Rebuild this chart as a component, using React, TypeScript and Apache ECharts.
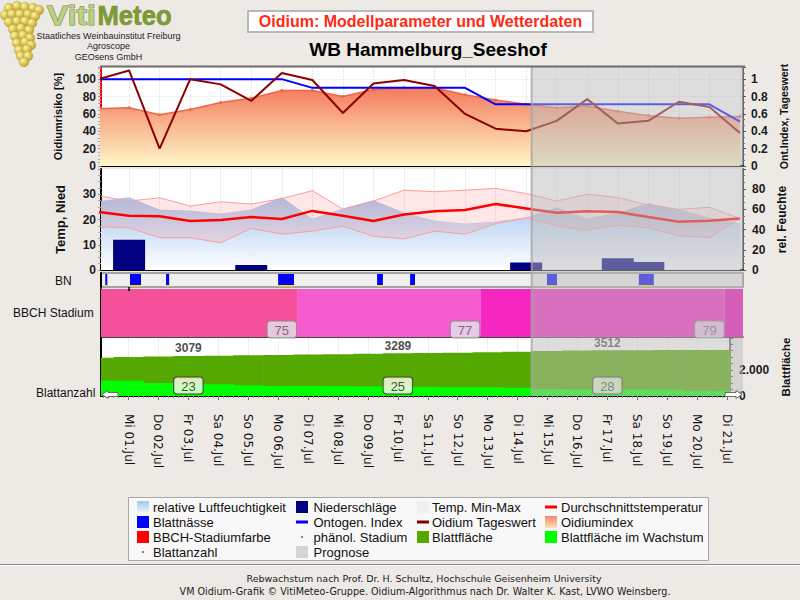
import React, { useEffect, useRef } from 'react';
import * as echarts from 'echarts';

// ---------------- data ----------------
const days = [0, 1, 2, 3, 4, 5, 6, 7, 8, 9, 10, 11, 12, 13, 14, 15, 16, 17, 18, 19, 20, 21];
const labelDays = [1, 2, 3, 4, 5, 6, 7, 8, 9, 10, 11, 12, 13, 14, 15, 16, 17, 18, 19, 20, 21];
const dayLabels = [
  'Mi 01.Jul', 'Do 02.Jul', 'Fr 03.Jul', 'Sa 04.Jul', 'So 05.Jul', 'Mo 06.Jul', 'Di 07.Jul',
  'Mi 08.Jul', 'Do 09.Jul', 'Fr 10.Jul', 'Sa 11.Jul', 'So 12.Jul', 'Mo 13.Jul', 'Di 14.Jul',
  'Mi 15.Jul', 'Do 16.Jul', 'Fr 17.Jul', 'Sa 18.Jul', 'So 19.Jul', 'Mo 20.Jul', 'Di 21.Jul',
];

const oidiumTageswert = [100, 110, 20, 100, 94, 75, 107, 99, 61, 95, 99, 92, 60, 43, 40, 52, 77, 49, 52, 74, 68, 38];
const oidiumIndex = [66, 67, 59, 65, 73, 78, 87, 87, 80, 88, 90, 90, 82, 76, 71, 67, 69, 63, 58, 55, 56, 57];
const ontogenIndex = [1, 1, 1, 1, 1, 1, 1, 0.9, 0.9, 0.9, 0.9, 0.9, 0.9, 0.71, 0.71, 0.71, 0.71, 0.71, 0.71, 0.71, 0.71, 0.51];

const relFeuchte = [68, 72, 60, 59, 56, 60, 72, 51, 61, 69, 57, 49, 46, 48, 52, 62, 51, 57, 66, 60, 52, 46];
const tempAvg = [23, 21.5, 21.3, 19.4, 19.8, 21, 20.2, 23.4, 21.5, 19.4, 22, 23.3, 23.8, 26.1, 24.4, 22.7, 23.3, 23, 21, 19.1, 19.5, 20.4];
const tempMax = [29.4, 27.3, 28.6, 25.3, 27, 26.1, 28.3, 31.4, 24.1, 27.3, 31.6, 31, 31.6, 32.3, 30.3, 27.3, 30, 28.7, 25.7, 24, 24.8, 20.4];
const tempMin = [17.1, 16.7, 12.8, 12.8, 10.8, 16.5, 14.2, 15.4, 17.4, 13.4, 12.3, 15.4, 14.2, 18.4, 20.7, 17.5, 15.8, 17.8, 16.7, 13.6, 12.8, 20.4];

const niederDays = [1, 5, 14, 17, 18];
const niederValues = [12, 2, 3, 4.7, 3.2];

const bnStart = [0.22, 1.03, 2.21, 5.88, 9.12, 10.2, 14.68, 17.69];
const bnEnd = [0.28, 1.39, 2.31, 6.4, 9.31, 10.36, 15.01, 18.18];

const bbchStart = [0, 6.5, 12.5, 20.5];
const bbchEnd = [6.5, 12.5, 20.5, 21.2];
const bbchColors = ['#f5509a', '#f45ccf', '#f527c0', '#f000b4'];
const bbchLabelDays = [6, 12, 20];
const bbchLabels = ['75', '77', '79'];
const phenoDays = [1];

const blattflaeche = [2950, 3000, 3040, 3079, 3100, 3130, 3160, 3190, 3220, 3255, 3289, 3310, 3330, 3360, 3410, 3460, 3490, 3512, 3525, 3535, 3540, 3545];
const blattWachstum = [1180, 1170, 1000, 930, 900, 820, 780, 770, 760, 740, 720, 700, 680, 670, 640, 520, 510, 500, 500, 490, 390, 380];
const blattLabelDays = [3, 10, 17];
const blattanzahlDays = [3, 10, 17];
const blattanzahl = [23, 25, 28];

const prognoseStart = 14.18;

// ---------------- layout ----------------
const FONT = 'Liberation Sans, Arial, sans-serif';
const VFONT = 'DejaVu Sans, Verdana, sans-serif';
const XMIN = 0.08;
const XMAX = 21.1;
const L = 101;
const R = 743;
const PANELS = [
  { top: 67, height: 99 },
  { top: 169, height: 101 },
  { top: 273, height: 14 },
  { top: 289, height: 48 },
  { top: 338, height: 58 },
];
const OVERLAY_BOTTOM = 396;
const HOUR_STEPS = [0, 1, 2, 3, 4, 5];
const minorDayTicks = days
  .flatMap((d) => HOUR_STEPS.map((k) => d + k / 6))
  .filter((v) => v > XMIN && v < XMAX);

const xy = (vals: number[]) => days.map((d, i) => [d, vals[i]]);

const boldLabel = { fontWeight: 'bold', fontSize: 12, color: '#1a1a1a', fontFamily: FONT };

const dayBlock = (fill: string) => (params: any, api: any) => {
  const d = api.value(0);
  const v = api.value(1);
  const p0 = api.coord([d - 0.5, v]);
  const p1 = api.coord([d + 0.5, 0]);
  return {
    type: 'rect',
    shape: { x: p0[0], y: p0[1], width: p1[0] - p0[0] + 0.6, height: p1[1] - p0[1] },
    style: { fill },
  };
};

function buildOption() {
  const grid = PANELS.map((p, i) => ({
    left: L,
    width: R - L,
    top: p.top,
    height: p.height,
    show: true,
    backgroundColor: i === 2 ? '#efefef' : '#ffffff',
    borderColor: '#8c8c8c',
    borderWidth: i === 2 ? 1.5 : 0,
  }));

  const xAxis: any[] = PANELS.map((_, i) => ({
    type: 'value',
    gridIndex: i,
    min: XMIN,
    max: XMAX,
    axisLine: {
      show: i !== 2,
      onZero: false,
      lineStyle: { color: i === 3 ? '#111' : '#000', width: i === 3 ? 1.5 : 2 },
    },
    axisTick: {
      show: i === 4,
      customValues: labelDays,
      length: 4,
      lineStyle: { color: '#666' },
    },
    axisLabel: {
      show: i === 4,
      customValues: labelDays,
      formatter: (v: number) => dayLabels[Math.round(v) - 1] || '',
      rotate: -90,
      margin: 18,
      fontSize: 12,
      fontFamily: VFONT,
      color: '#111',
    },
    splitLine: {
      show: i === 0 || i === 1 || i === 4,
      lineStyle: { color: '#dedede', type: 'dotted', width: 1 },
    },
  }));
  // small 4-hour ticks below the time axis
  xAxis.push({
    type: 'value', gridIndex: 4, position: 'bottom', min: XMIN, max: XMAX,
    axisLine: { show: false },
    axisTick: { show: true, customValues: minorDayTicks, length: 2, lineStyle: { color: '#888' } },
    axisLabel: { show: false },
    splitLine: { show: false },
  });

  const yAxis: any[] = [
    {
      type: 'value', gridIndex: 0, position: 'left', min: 0, max: 114, interval: 20,
      name: 'Oidiumrisiko [%]', nameLocation: 'middle', nameGap: 38, nameRotate: 90,
      nameTextStyle: { fontWeight: 'bold', fontSize: 11, color: '#111', fontFamily: FONT },
      axisLine: { show: true, lineStyle: { color: '#ff0000', width: 2 } },
      axisTick: { show: true, length: 3, lineStyle: { color: '#999' } },
      minorTick: { show: true, splitNumber: 5, length: 3, lineStyle: { color: '#aaa' } },
      axisLabel: { ...boldLabel, margin: 5, showMaxLabel: false },
      splitLine: { show: true, lineStyle: { color: '#e6e6e6', type: 'dotted' } },
    },
    {
      type: 'value', gridIndex: 0, position: 'right', min: 0, max: 1.14, interval: 0.2,
      name: 'Ont.Index, Tageswert', nameLocation: 'middle', nameGap: 30, nameRotate: 90,
      nameTextStyle: { fontWeight: 'bold', fontSize: 10.5, color: '#111', fontFamily: FONT },
      axisLine: { show: true, lineStyle: { color: '#666', width: 2 } },
      axisTick: { show: true, length: 3, lineStyle: { color: '#555' } },
      minorTick: { show: true, splitNumber: 3, length: 2, lineStyle: { color: '#777' } },
      axisLabel: { ...boldLabel, margin: 8, showMaxLabel: false },
      splitLine: { show: false },
    },
    {
      type: 'value', gridIndex: 1, position: 'left', min: 0, max: 40, interval: 10,
      name: 'Temp, Nied', nameLocation: 'middle', nameGap: 34, nameRotate: 90,
      nameTextStyle: { fontWeight: 'bold', fontSize: 13, color: '#111', fontFamily: FONT },
      axisLine: { show: true, lineStyle: { color: '#000', width: 2 } },
      axisTick: { show: true, length: 3, lineStyle: { color: '#888' } },
      minorTick: { show: true, splitNumber: 4, length: 3, lineStyle: { color: '#aaa' } },
      axisLabel: { ...boldLabel, margin: 5, showMaxLabel: false },
      splitLine: { show: false },
    },
    {
      type: 'value', gridIndex: 1, position: 'right', min: 0, max: 100, interval: 20,
      name: 'rel. Feuchte', nameLocation: 'middle', nameGap: 32, nameRotate: 90,
      nameTextStyle: { fontWeight: 'bold', fontSize: 12, color: '#111', fontFamily: FONT },
      axisLine: { show: true, lineStyle: { color: '#666', width: 2 } },
      axisTick: { show: true, length: 3, lineStyle: { color: '#555' } },
      minorTick: { show: true, splitNumber: 3, length: 2, lineStyle: { color: '#777' } },
      axisLabel: { ...boldLabel, margin: 9, showMaxLabel: false },
      splitLine: { show: false },
    },
    {
      type: 'value', gridIndex: 2, position: 'left', min: 0, max: 1,
      axisLine: { show: true, lineStyle: { color: '#000', width: 2 } },
      axisTick: { show: false }, axisLabel: { show: false }, splitLine: { show: false },
    },
    {
      type: 'value', gridIndex: 3, position: 'left', min: 0, max: 1,
      axisLine: { show: true, lineStyle: { color: '#000', width: 2 } },
      axisTick: { show: false }, axisLabel: { show: false }, splitLine: { show: false },
    },
    {
      type: 'value', gridIndex: 4, position: 'right', min: 0, max: 4460, interval: 500,
      name: 'Blattfläche', nameLocation: 'middle', nameGap: 42, nameRotate: 90,
      nameTextStyle: { fontWeight: 'bold', fontSize: 11.5, color: '#111', fontFamily: FONT },
      axisLine: { show: true, lineStyle: { color: '#666', width: 2 } },
      axisTick: { show: true, length: 3, lineStyle: { color: '#555' } },
      axisLabel: {
        ...boldLabel, margin: 9, customValues: [0, 2000],
        formatter: (v: number) => (v === 0 ? '0' : (v / 1000).toFixed(3)),
      },
      splitLine: { show: false },
    },
    {
      type: 'value', gridIndex: 4, position: 'left', min: 0, max: 4460,
      axisLine: { show: true, lineStyle: { color: '#000', width: 2 } },
      axisTick: { show: false }, axisLabel: { show: false }, splitLine: { show: false },
    },
  ];

  const series: any[] = [
    // ---- top panel ----
    {
      name: 'Oidiumindex', type: 'line', xAxisIndex: 0, yAxisIndex: 0, z: 2,
      data: xy(oidiumIndex), symbol: 'circle', symbolSize: 3, showSymbol: true,
      itemStyle: { color: '#f0654a' },
      lineStyle: { color: '#f0654a', width: 1.5 },
      areaStyle: {
        color: new echarts.graphic.LinearGradient(0, 0, 0, 1, [
          { offset: 0, color: '#f47a5c' },
          { offset: 1, color: '#fff8c8' },
        ]),
        opacity: 1,
      },
    },
    {
      name: 'Ontogen. Index', type: 'line', xAxisIndex: 0, yAxisIndex: 1, z: 3,
      data: xy(ontogenIndex), symbol: 'none', lineStyle: { color: '#0000ff', width: 2 },
    },
    {
      name: 'Oidium Tageswert', type: 'line', xAxisIndex: 0, yAxisIndex: 0, z: 4,
      data: xy(oidiumTageswert), symbol: 'none', lineStyle: { color: '#8b0000', width: 2 },
    },
    // ---- temperature panel ----
    {
      name: 'relative Luftfeuchtigkeit', type: 'line', xAxisIndex: 1, yAxisIndex: 3, z: 1,
      data: xy(relFeuchte), symbol: 'none', lineStyle: { width: 0 },
      areaStyle: {
        color: new echarts.graphic.LinearGradient(0, 0, 0, 1, [
          { offset: 0, color: '#a4c6ee' },
          { offset: 1, color: '#ffffff' },
        ]),
        opacity: 1,
      },
    },
    {
      name: 'Temp. Min-Max', type: 'custom', xAxisIndex: 1, yAxisIndex: 2, z: 2, clip: true,
      data: [[1, 0]],
      renderItem: (params: any, api: any) => {
        const top = days.map((d, i) => api.coord([d, tempMax[i]]));
        const bot = days.map((d, i) => api.coord([d, tempMin[i]]));
        return {
          type: 'group',
          children: [
            { type: 'polygon', shape: { points: top.concat(bot.slice().reverse()) }, style: { fill: 'rgba(255,120,120,0.18)' } },
            { type: 'polyline', shape: { points: top }, style: { stroke: '#ff9c9c', lineWidth: 1, fill: null } },
            { type: 'polyline', shape: { points: bot }, style: { stroke: '#ff9c9c', lineWidth: 1, fill: null } },
          ],
        };
      },
    },
    {
      name: 'Niederschläge', type: 'bar', xAxisIndex: 1, yAxisIndex: 2, z: 3,
      data: niederDays.map((d, i) => [d, niederValues[i]]), barWidth: 32,
      itemStyle: { color: '#000080' },
    },
    {
      name: 'Durchschnittstemperatur', type: 'line', xAxisIndex: 1, yAxisIndex: 2, z: 4,
      data: xy(tempAvg), symbol: 'none', lineStyle: { color: '#ff0000', width: 2.5 },
    },
    // ---- BN ----
    {
      name: 'Blattnässe', type: 'custom', xAxisIndex: 2, yAxisIndex: 4, z: 2, clip: true,
      data: bnStart.map((s, i) => [s, bnEnd[i]]),
      renderItem: (params: any, api: any) => {
        const cs = params.coordSys;
        const x0 = api.coord([api.value(0), 0])[0];
        const x1 = api.coord([api.value(1), 0])[0];
        const w = Math.max(x1 - x0, 2);
        return {
          type: 'group',
          children: [
            { type: 'rect', shape: { x: x0, y: cs.y + 1, width: w, height: cs.height - 2 }, style: { fill: '#0000ff' } },
            { type: 'rect', shape: { x: x0, y: cs.y + cs.height - 2, width: w, height: 1.5 }, style: { fill: '#ffe600' } },
          ],
        };
      },
    },
    // ---- BBCH ----
    {
      name: 'BBCH', type: 'custom', xAxisIndex: 3, yAxisIndex: 5, z: 1, clip: true,
      data: bbchStart.map((s, i) => [s, bbchEnd[i]]),
      renderItem: (params: any, api: any) => {
        const cs = params.coordSys;
        let x0 = api.coord([api.value(0), 0])[0];
        let x1 = api.coord([api.value(1), 0])[0];
        x0 = Math.max(x0, cs.x);
        x1 = Math.min(x1, cs.x + cs.width);
        return {
          type: 'rect',
          shape: { x: x0, y: cs.y, width: x1 - x0, height: cs.height },
          style: { fill: bbchColors[params.dataIndex] },
        };
      },
    },
    {
      name: 'phänol. Stadium', type: 'scatter', xAxisIndex: 3, yAxisIndex: 5, z: 3,
      data: phenoDays.map((d) => [d, 1]), symbol: 'rect', symbolSize: [2, 4],
      itemStyle: { color: '#000' },
    },
    {
      name: 'BBCH-Label', type: 'scatter', xAxisIndex: 3, yAxisIndex: 5, z: 3,
      data: bbchLabelDays.map((d) => [d, 0]), symbolSize: 1,
      itemStyle: { color: 'rgba(0,0,0,0)' },
      label: {
        show: true, position: 'top', distance: -1,
        formatter: (p: any) => bbchLabels[p.dataIndex],
        backgroundColor: '#e7e4ee', borderColor: '#8a8a8a', borderWidth: 1, borderRadius: 3,
        padding: [2, 7, 1, 7], color: '#555', fontSize: 13, fontFamily: FONT,
      },
    },
    // ---- Blattfläche ----
    {
      name: 'Blattfläche', type: 'custom', xAxisIndex: 4, yAxisIndex: 6, z: 1, clip: true,
      data: xy(blattflaeche), renderItem: dayBlock('#55a800'),
    },
    {
      name: 'Blattfläche im Wachstum', type: 'custom', xAxisIndex: 4, yAxisIndex: 6, z: 2, clip: true,
      data: xy(blattWachstum), renderItem: dayBlock('#00ff00'),
    },
    {
      name: 'BlattLabel', type: 'scatter', xAxisIndex: 4, yAxisIndex: 6, z: 3,
      data: blattLabelDays.map((d) => [d, blattflaeche[d]]), symbolSize: 1,
      itemStyle: { color: 'rgba(0,0,0,0)' },
      label: {
        show: true, position: 'top', distance: 1,
        formatter: (p: any) => String(p.value[1]),
        fontWeight: 'bold', fontSize: 12, color: '#1a1a1a', fontFamily: FONT,
      },
    },
    {
      name: 'Blattanzahl', type: 'scatter', xAxisIndex: 4, yAxisIndex: 6, z: 3,
      data: blattanzahlDays.map((d) => [d, 0]), symbolSize: 1,
      itemStyle: { color: 'rgba(0,0,0,0)' },
      label: {
        show: true, position: 'top', distance: 2,
        formatter: (p: any) => String(blattanzahl[p.dataIndex]),
        backgroundColor: '#fffff0', borderColor: '#333', borderWidth: 1, borderRadius: 3,
        padding: [2, 7, 1, 7], color: '#222', fontSize: 13, fontFamily: FONT,
      },
    },
    // ---- Prognose overlay ----
    {
      name: 'Prognose', type: 'custom', xAxisIndex: 0, yAxisIndex: 0, z: 50, clip: false, silent: true,
      data: [[prognoseStart, XMAX]],
      renderItem: (params: any, api: any) => {
        const cs = params.coordSys;
        const x0 = api.coord([api.value(0), 0])[0];
        const x1 = api.coord([api.value(1), 0])[0];
        return {
          type: 'group',
          children: [
            {
              type: 'rect',
              shape: { x: x0, y: cs.y, width: x1 - x0, height: OVERLAY_BOTTOM - cs.y },
              style: { fill: 'rgba(188,188,188,0.5)' },
            },
            {
              type: 'line',
              shape: { x1: x0, y1: cs.y, x2: x0, y2: OVERLAY_BOTTOM },
              style: { stroke: 'rgba(165,165,165,0.8)', lineWidth: 2 },
            },
          ],
        };
      },
    },
  ];

  // ---------------- graphics ----------------
  const g: any[] = [];
  const grapes = [
    [9, 8], [17, 6], [25, 7], [33, 8], [39, 10],
    [5, 15], [12, 14], [20, 14], [28, 14], [35, 16],
    [9, 22], [17, 21], [25, 21], [32, 23],
    [13, 29], [21, 28], [29, 30],
    [15, 36], [23, 35], [30, 38],
    [17, 43], [25, 42], [31, 45],
    [19, 50], [27, 49],
    [21, 56], [28, 56],
    [24, 62],
  ];
  grapes.forEach(([cx, cy]) =>
    g.push({
      type: 'circle', shape: { cx, cy, r: 4.8 },
      style: {
        fill: new echarts.graphic.RadialGradient(0.35, 0.35, 0.75, [
          { offset: 0, color: '#fff4a0' },
          { offset: 1, color: '#b89c1c' },
        ]),
        stroke: 'rgba(140,110,20,0.45)', lineWidth: 0.5,
      },
    }),
  );
  g.push({ type: 'text', x: 47, y: 15.8, z: 5, scaleX: 1.18, style: { text: 'Viti', font: 'bold 27px ' + FONT, verticalAlign: 'middle', fill: '#bccf86', stroke: '#6c8a2e', lineWidth: 1 } });
  g.push({ type: 'text', x: 97.5, y: 15.8, z: 5, scaleX: 0.95, style: { text: 'Meteo', font: 'bold 27px ' + FONT, verticalAlign: 'middle', fill: '#7d9b35', stroke: '#5f7d22', lineWidth: 0.6 } });
  [['Staatliches Weinbauinstitut Freiburg', 36], ['Agroscope', 46.4], ['GEOsens GmbH', 56.8]].forEach(([t, y]) =>
    g.push({ type: 'text', x: 108.5, y: y as number, z: 6, style: { text: t, font: '9px ' + FONT, fill: '#222', align: 'center', verticalAlign: 'middle' } }),
  );

  // title box
  g.push({ type: 'rect', shape: { x: 248, y: 11, width: 345, height: 21 }, style: { fill: '#ffffff', stroke: '#b8b8b8', lineWidth: 2 } });
  g.push({ type: 'text', x: 420.5, y: 21.5, style: { text: 'Oidium: Modellparameter und Wetterdaten', font: 'bold 16px ' + FONT, fill: '#ff2b14', align: 'center', verticalAlign: 'middle' } });
  g.push({ type: 'text', x: 428, y: 49, style: { text: 'WB Hammelburg_Seeshof', font: 'bold 19px ' + FONT, fill: '#000', align: 'center', verticalAlign: 'middle' } });

  // frame top line
  g.push({ type: 'line', shape: { x1: 100, y1: 66.5, x2: 745, y2: 66.5 }, style: { stroke: '#6e6e6e', lineWidth: 2 }, z: 60 });

  // row labels
  g.push({ type: 'text', x: 55, y: 280.5, style: { text: 'BN', font: '12px ' + FONT, fill: '#111', verticalAlign: 'middle' } });
  g.push({ type: 'text', x: 13, y: 313, style: { text: 'BBCH Stadium', font: '12px ' + FONT, fill: '#111', verticalAlign: 'middle' } });
  g.push({ type: 'text', x: 36, y: 393, style: { text: 'Blattanzahl', font: '12px ' + FONT, fill: '#111', verticalAlign: 'middle' } });

  // arrows
  g.push({ type: 'polygon', z: 70, shape: { points: [[102, 394.5], [108, 390.5], [108, 392.5], [118, 392.5], [118, 396.5], [108, 396.5], [108, 398.5]] }, style: { fill: '#ffffff', stroke: '#6a6a6a', lineWidth: 1 } });
  g.push({ type: 'polygon', z: 70, shape: { points: [[742, 394.5], [736, 390.5], [736, 392.5], [725, 392.5], [725, 396.5], [736, 396.5], [736, 398.5]] }, style: { fill: '#ffffff', stroke: '#6a6a6a', lineWidth: 1 } });

  // legend
  g.push({ type: 'rect', shape: { x: 128.5, y: 497.5, width: 580, height: 63 }, style: { fill: '#f8f8f8', stroke: '#a8a8a8', lineWidth: 1 } });
  const iconX = [137, 296, 417, 545];
  const textX = [153, 313.5, 432, 561];
  const rowY = [507, 522, 537, 552];
  const blueGrad = new echarts.graphic.LinearGradient(0, 0, 0, 1, [{ offset: 0, color: '#a4c6ee' }, { offset: 1, color: '#eef4fc' }]);
  const redGrad = new echarts.graphic.LinearGradient(0, 0, 0, 1, [{ offset: 0, color: '#f4876a' }, { offset: 1, color: '#fde2b4' }]);
  const legendItems: [number, number, string, string, any][] = [
    [0, 0, 'relative Luftfeuchtigkeit', 'box', blueGrad],
    [1, 0, 'Niederschläge', 'box', '#000080'],
    [2, 0, 'Temp. Min-Max', 'box', '#efefef'],
    [3, 0, 'Durchschnittstemperatur', 'line', '#ff0000'],
    [0, 1, 'Blattnässe', 'box', '#0000ff'],
    [1, 1, 'Ontogen. Index', 'line', '#0000ff'],
    [2, 1, 'Oidium Tageswert', 'line', '#800000'],
    [3, 1, 'Oidiumindex', 'box', redGrad],
    [0, 2, 'BBCH-Stadiumfarbe', 'box', '#ff0000'],
    [1, 2, 'phänol. Stadium', 'dot', '#6a9a6a'],
    [2, 2, 'Blattfläche', 'box', '#55a800'],
    [3, 2, 'Blattfläche im Wachstum', 'box', '#00ff00'],
    [0, 3, 'Blattanzahl', 'dot', '#6a9a6a'],
    [1, 3, 'Prognose', 'box', '#d4d4d4'],
  ];
  legendItems.forEach(([c, r, name, kind, color]) => {
    const ix = iconX[c];
    const cy = rowY[r];
    if (kind === 'box') {
      g.push({ type: 'rect', shape: { x: ix, y: cy - 6, width: 12, height: 12 }, style: { fill: color } });
    } else if (kind === 'line') {
      g.push({ type: 'rect', shape: { x: ix, y: cy - 1.5, width: 12, height: 3 }, style: { fill: color } });
    } else {
      g.push({ type: 'rect', shape: { x: ix + 5, y: cy - 1, width: 2, height: 2 }, style: { fill: color } });
    }
    g.push({ type: 'text', x: textX[c], y: cy, style: { text: name, font: '13px ' + FONT, fill: '#111', verticalAlign: 'middle' } });
  });

  // footer
  g.push({ type: 'line', shape: { x1: 0, y1: 564.5, x2: 800, y2: 564.5 }, style: { stroke: '#8c8c8c', lineWidth: 1 } });
  g.push({ type: 'line', shape: { x1: 0, y1: 565.5, x2: 800, y2: 565.5 }, style: { stroke: '#ffffff', lineWidth: 1 } });
  g.push({ type: 'text', x: 424, y: 578, style: { text: 'Rebwachstum nach Prof. Dr. H. Schultz, Hochschule Geisenheim University', font: '9.5px ' + VFONT, fill: '#1a1a1a', align: 'center', verticalAlign: 'middle' } });
  g.push({ type: 'text', x: 425, y: 591, style: { text: 'VM Oidium-Grafik © VitiMeteo-Gruppe. Oidium-Algorithmus nach Dr. Walter K. Kast, LVWO Weinsberg.', font: '9.6px ' + VFONT, fill: '#1a1a1a', align: 'center', verticalAlign: 'middle' } });

  return {
    animation: false,
    backgroundColor: '#edeae6',
    grid,
    xAxis,
    yAxis,
    series,
    graphic: { elements: g },
  };
}

export default function App() {
  const ref = useRef<HTMLDivElement>(null);
  useEffect(() => {
    if (!ref.current) return;
    const chart = echarts.init(ref.current, null, { renderer: 'svg' });
    chart.setOption(buildOption() as any);
    return () => chart.dispose();
  }, []);
  return (
    <div
      ref={ref}
      style={{ position: 'fixed', left: 0, top: 0, width: 800, height: 600, background: '#edeae6' }}
    />
  );
}
